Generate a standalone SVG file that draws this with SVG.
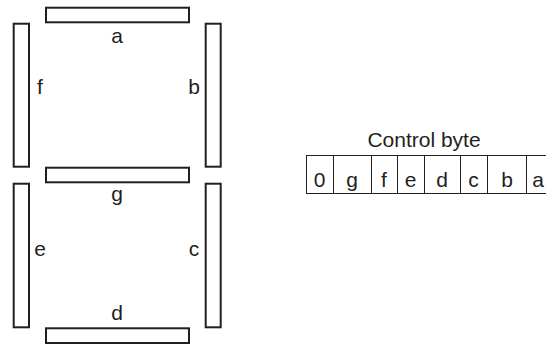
<svg xmlns="http://www.w3.org/2000/svg" width="546" height="345" viewBox="0 0 546 345">
<style>
.seg{fill:#fff;stroke:#231f20;stroke-width:2}
.lbl{font-family:"Liberation Sans",Arial,sans-serif;font-size:21px;fill:#231f20;text-anchor:middle}
.cell{fill:none;stroke:#231f20;stroke-width:1}
</style>
<rect width="546" height="345" fill="#fff"/>
<g id="seg-a"><rect class="seg" x="46" y="7.7" width="143" height="14.6"/><text class="lbl" x="117" y="43">a</text></g>
<g id="seg-f"><rect class="seg" x="13.7" y="23.7" width="15.3" height="143"/><text class="lbl" x="40" y="94">f</text></g>
<g id="seg-b"><rect class="seg" x="205.7" y="23.7" width="15" height="143"/><text class="lbl" x="194" y="94">b</text></g>
<g id="seg-g"><rect class="seg" x="46" y="167.7" width="143" height="14.6"/><text class="lbl" x="117" y="201">g</text></g>
<g id="seg-e"><rect class="seg" x="13.7" y="183.7" width="15.3" height="143.6"/><text class="lbl" x="40" y="256">e</text></g>
<g id="seg-c"><rect class="seg" x="205.7" y="183.7" width="15" height="143.6"/><text class="lbl" x="194" y="256">c</text></g>
<g id="seg-d"><rect class="seg" x="46" y="328.3" width="143" height="14.7"/><text class="lbl" x="117" y="320">d</text></g>
<g id="control-byte">
<text class="lbl" x="424" y="147">Control byte</text>
<rect class="cell" x="306.5" y="155.5" width="260" height="38"/>
<path class="cell" d="M333.5 155.5V193.5M371.5 155.5V193.5M397.5 155.5V193.5M424.5 155.5V193.5M460.5 155.5V193.5M487.5 155.5V193.5M526.5 155.5V193.5"/>
<text class="lbl" x="319.5" y="187">0</text>
<text class="lbl" x="352" y="187">g</text>
<text class="lbl" x="384" y="187">f</text>
<text class="lbl" x="410.5" y="187">e</text>
<text class="lbl" x="442" y="187">d</text>
<text class="lbl" x="473.5" y="187">c</text>
<text class="lbl" x="507" y="187">b</text>
<text class="lbl" x="538" y="187">a</text>
</g>
</svg>
